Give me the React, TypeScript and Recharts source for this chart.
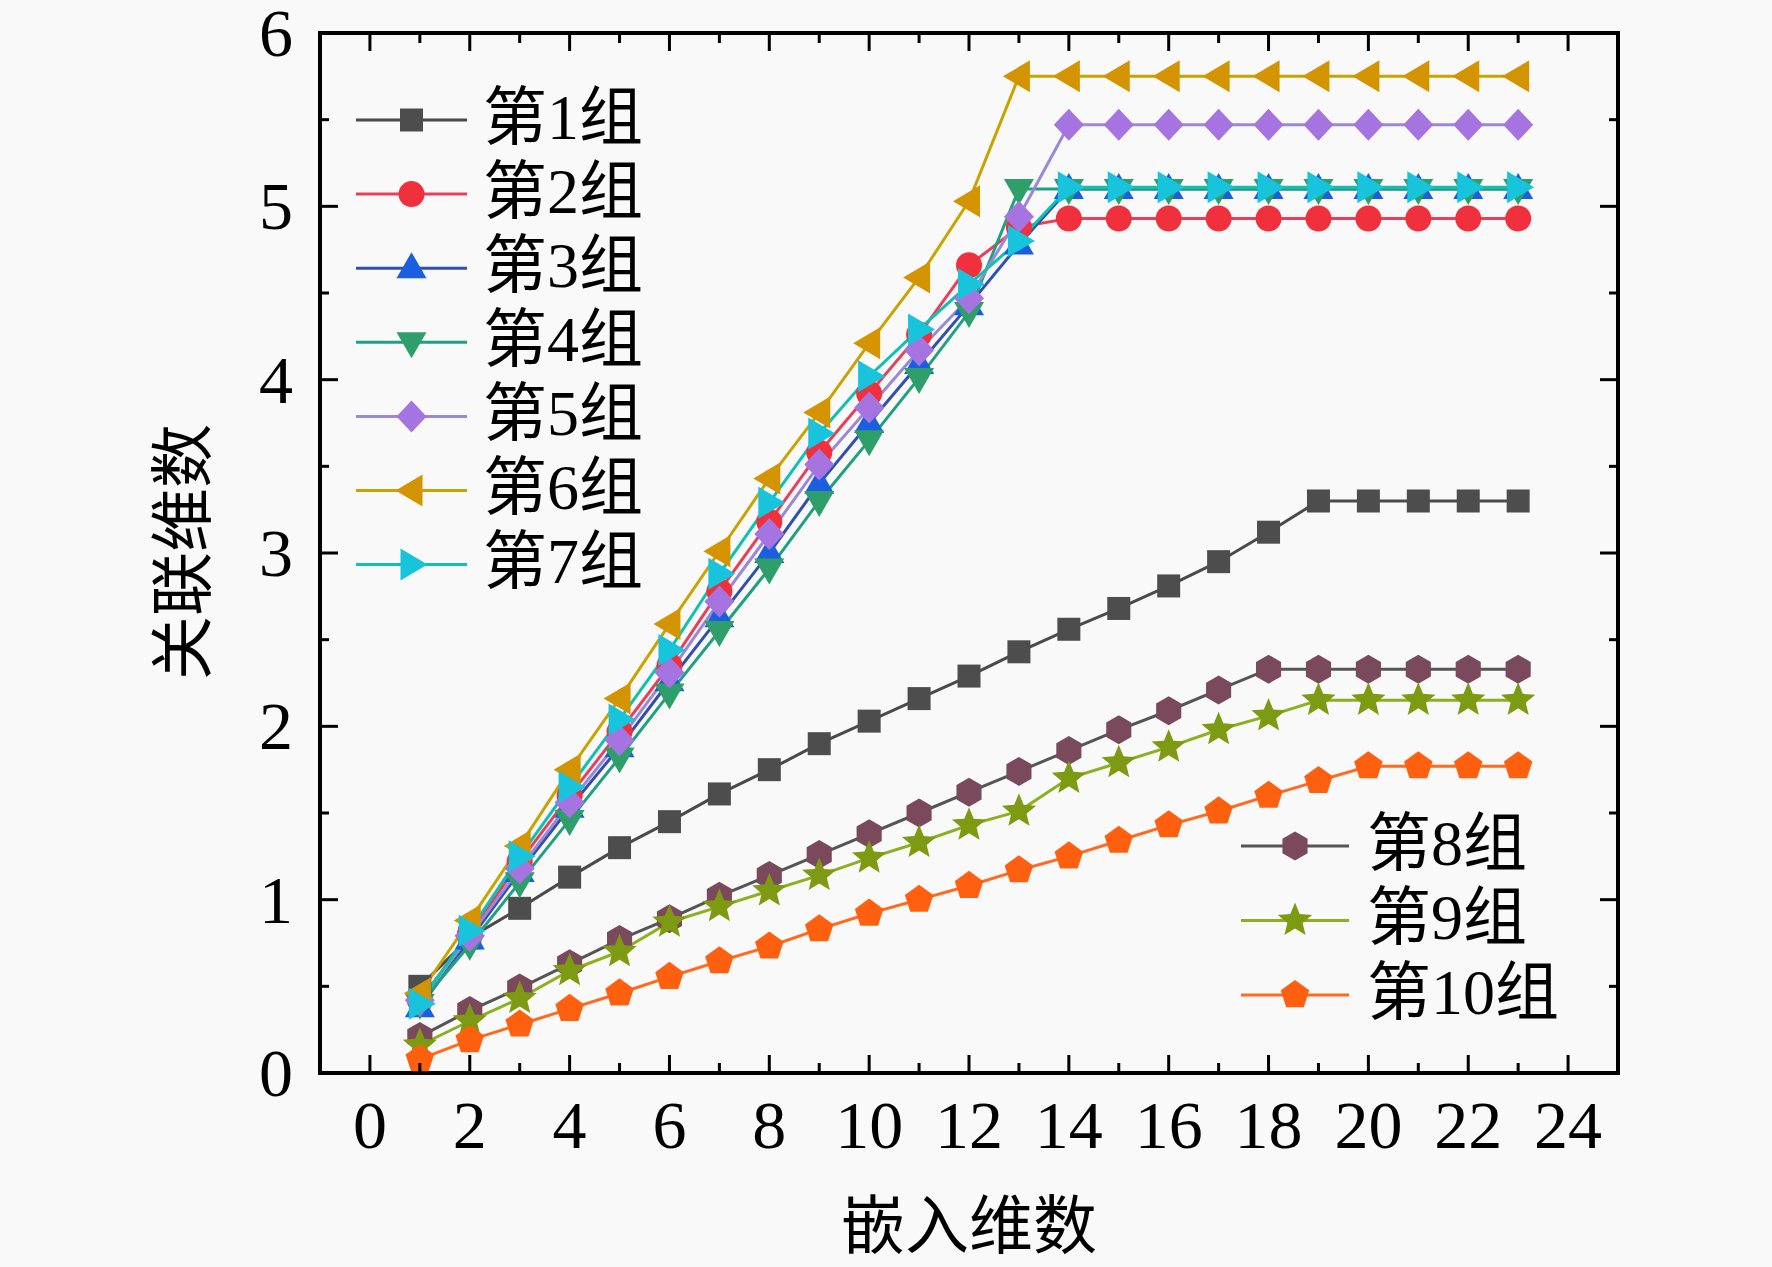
import React from 'react';
import { LineChart, Line, XAxis, YAxis } from 'recharts';

const embedDims = [1, 2, 3, 4, 5, 6, 7, 8, 9, 10, 11, 12, 13, 14, 15, 16, 17, 18, 19, 20, 21, 22, 23];
const group1 = [0.50, 0.78, 0.95, 1.13, 1.30, 1.45, 1.61, 1.75, 1.90, 2.03, 2.16, 2.29, 2.43, 2.56, 2.68, 2.81, 2.95, 3.12, 3.30, 3.30, 3.30, 3.30, 3.30];
const group2 = [0.42, 0.80, 1.22, 1.60, 1.97, 2.35, 2.78, 3.18, 3.58, 3.92, 4.26, 4.66, 4.88, 4.93, 4.93, 4.93, 4.93, 4.93, 4.93, 4.93, 4.93, 4.93, 4.93];
const group3 = [0.38, 0.77, 1.16, 1.53, 1.88, 2.26, 2.63, 3.00, 3.40, 3.75, 4.09, 4.43, 4.78, 5.10, 5.10, 5.10, 5.10, 5.10, 5.10, 5.10, 5.10, 5.10, 5.10];
const group4 = [0.40, 0.74, 1.10, 1.46, 1.82, 2.19, 2.55, 2.91, 3.30, 3.65, 4.01, 4.39, 5.10, 5.10, 5.10, 5.10, 5.10, 5.10, 5.10, 5.10, 5.10, 5.10, 5.10];
const group5 = [0.42, 0.79, 1.18, 1.56, 1.92, 2.31, 2.72, 3.11, 3.51, 3.84, 4.17, 4.47, 4.94, 5.47, 5.47, 5.47, 5.47, 5.47, 5.47, 5.47, 5.47, 5.47, 5.47];
const group6 = [0.46, 0.88, 1.31, 1.75, 2.16, 2.59, 3.01, 3.43, 3.81, 4.21, 4.59, 5.03, 5.75, 5.75, 5.75, 5.75, 5.75, 5.75, 5.75, 5.75, 5.75, 5.75, 5.75];
const group7 = [0.40, 0.82, 1.25, 1.65, 2.04, 2.44, 2.88, 3.29, 3.69, 4.02, 4.29, 4.55, 4.80, 5.11, 5.11, 5.11, 5.11, 5.11, 5.11, 5.11, 5.11, 5.11, 5.11];
const group8 = [0.21, 0.36, 0.49, 0.63, 0.77, 0.89, 1.02, 1.14, 1.26, 1.38, 1.50, 1.62, 1.74, 1.86, 1.98, 2.09, 2.21, 2.33, 2.33, 2.33, 2.33, 2.33, 2.33];
const group9 = [0.16, 0.30, 0.43, 0.59, 0.70, 0.87, 0.96, 1.05, 1.14, 1.24, 1.33, 1.43, 1.51, 1.70, 1.79, 1.88, 1.98, 2.06, 2.15, 2.15, 2.15, 2.15, 2.15];
const group10 = [0.08, 0.19, 0.28, 0.37, 0.46, 0.555, 0.645, 0.73, 0.83, 0.92, 1.00, 1.08, 1.17, 1.25, 1.34, 1.43, 1.51, 1.60, 1.685, 1.77, 1.77, 1.77, 1.77];

const seriesNames = ['第1组', '第2组', '第3组', '第4组', '第5组', '第6组', '第7组', '第8组', '第9组', '第10组'];
const seriesValues = [group1, group2, group3, group4, group5, group6, group7, group8, group9, group10];
const xTicks = [0, 1, 2, 3, 4, 5, 6, 7, 8, 9, 10, 11, 12, 13, 14, 15, 16, 17, 18, 19, 20, 21, 22, 23, 24];
const yTicks = [0, 0.5, 1, 1.5, 2, 2.5, 3, 3.5, 4, 4.5, 5, 5.5, 6];
const xTitle = '嵌入维数';
const yTitle = '关联维数';

const styles = [
  { shape: 'square', line: '#4a4a4a', fill: '#4d4d4d' },
  { shape: 'circle', line: '#e8405a', fill: '#f0303c' },
  { shape: 'up', line: '#3050b0', fill: '#1a5fe0' },
  { shape: 'down', line: '#20a080', fill: '#2e9e6a' },
  { shape: 'diamond', line: '#9a88d8', fill: '#a674e0' },
  { shape: 'left', line: '#c9a400', fill: '#d39400' },
  { shape: 'right', line: '#10c0b0', fill: '#18c4dc' },
  { shape: 'hexagon', line: '#555555', fill: '#7a4a5c' },
  { shape: 'star', line: '#8cb020', fill: '#7e9a12' },
  { shape: 'pentagon', line: '#ff6a20', fill: '#ff6010' },
];

const data = embedDims.map((k, i) => {
  const row: any = { k };
  seriesValues.forEach((arr, s) => {
    row['g' + s] = arr[i];
  });
  return row;
});

const W = 1772;
const H = 1267;
const PL = 320;
const PT = 33;
const PR = 1618;
const PB = 1073;
const AX = 30;
const FONT = "'Liberation Serif', 'Times New Roman', 'Noto Sans CJK SC', serif";

function regular(cx: number, cy: number, r: number, n: number, rot: number) {
  const pts: string[] = [];
  for (let i = 0; i < n; i++) {
    const a = ((rot + (360 / n) * i) * Math.PI) / 180;
    pts.push(`${cx + r * Math.cos(a)},${cy + r * Math.sin(a)}`);
  }
  return pts.join(' ');
}

function starPts(cx: number, cy: number, ro: number, ri: number) {
  const pts: string[] = [];
  for (let i = 0; i < 10; i++) {
    const r = i % 2 === 0 ? ro : ri;
    const a = ((-90 + 36 * i) * Math.PI) / 180;
    pts.push(`${cx + r * Math.cos(a)},${cy + r * Math.sin(a)}`);
  }
  return pts.join(' ');
}

function Marker({ shape, cx, cy, fill }: { shape: string; cx: number; cy: number; fill: string }) {
  switch (shape) {
    case 'square':
      return <rect x={cx - 11.5} y={cy - 11.5} width={23} height={23} fill={fill} />;
    case 'circle':
      return <circle cx={cx} cy={cy} r={13} fill={fill} />;
    case 'up':
      return <polygon points={`${cx},${cy - 16} ${cx + 15},${cy + 10} ${cx - 15},${cy + 10}`} fill={fill} />;
    case 'down':
      return <polygon points={`${cx},${cy + 16} ${cx + 15},${cy - 10} ${cx - 15},${cy - 10}`} fill={fill} />;
    case 'diamond':
      return <polygon points={`${cx},${cy - 16} ${cx + 15},${cy} ${cx},${cy + 16} ${cx - 15},${cy}`} fill={fill} />;
    case 'left':
      return <polygon points={`${cx - 16},${cy} ${cx + 11},${cy - 16} ${cx + 11},${cy + 16}`} fill={fill} />;
    case 'right':
      return <polygon points={`${cx + 16},${cy} ${cx - 11},${cy - 16} ${cx - 11},${cy + 16}`} fill={fill} />;
    case 'hexagon':
      return <polygon points={regular(cx, cy, 14.5, 6, -90)} fill={fill} />;
    case 'star':
      return <polygon points={starPts(cx, cy, 18, 8)} fill={fill} />;
    case 'pentagon':
      return <polygon points={regular(cx, cy, 15, 5, -90)} fill={fill} />;
    default:
      return null;
  }
}

function BottomTick(props: any) {
  const { x, y, payload } = props;
  const v = payload.value;
  const major = v % 2 === 0;
  return (
    <g>
      <line x1={x} x2={x} y1={y} y2={y - (major ? 18 : 10)} stroke="#000" strokeWidth={3} />
      {major && (
        <text x={x} y={y + 52} textAnchor="middle" dominantBaseline="central" fontSize={68} fontFamily={FONT} fill="#000">
          {v}
        </text>
      )}
    </g>
  );
}

function TopTick(props: any) {
  const { x, y, payload } = props;
  const v = payload.value;
  const major = v % 2 === 0;
  return <line x1={x} x2={x} y1={y} y2={y + (major ? 18 : 10)} stroke="#000" strokeWidth={3} />;
}

function LeftTick(props: any) {
  const { x, y, payload } = props;
  const v = payload.value;
  const major = Number.isInteger(v);
  return (
    <g>
      <line x1={x} x2={x + (major ? 18 : 9)} y1={y} y2={y} stroke="#000" strokeWidth={3} />
      {major && (
        <text x={x - 27} y={y} textAnchor="end" dominantBaseline="central" fontSize={68} fontFamily={FONT} fill="#000">
          {v}
        </text>
      )}
    </g>
  );
}

function RightTick(props: any) {
  const { x, y, payload } = props;
  const v = payload.value;
  const major = Number.isInteger(v);
  return <line x1={x} x2={x - (major ? 18 : 9)} y1={y} y2={y} stroke="#000" strokeWidth={3} />;
}

const legendA = [0, 1, 2, 3, 4, 5, 6];
const legendB = [7, 8, 9];

export default function App() {
  const axisLine = { stroke: '#000', strokeWidth: 4, strokeLinecap: 'square' as const };
  return (
    <div style={{ position: 'absolute', left: 0, top: 0, width: W, height: H, background: '#f9f9f9' }}>
      <LineChart
        width={W}
        height={H}
        data={data}
        margin={{ top: PT - AX, right: W - PR - AX, bottom: H - PB - AX, left: PL - AX }}
      >
        <XAxis
          dataKey="k"
          type="number"
          domain={[-1, 25]}
          ticks={xTicks}
          interval={0}
          height={AX}
          tickSize={0}
          tickMargin={0}
          tickLine={false}
          axisLine={axisLine}
          tick={BottomTick}
          allowDataOverflow
        />
        <XAxis
          xAxisId="top"
          orientation="top"
          dataKey="k"
          type="number"
          domain={[-1, 25]}
          ticks={xTicks}
          interval={0}
          height={AX}
          tickSize={0}
          tickMargin={0}
          tickLine={false}
          axisLine={axisLine}
          tick={TopTick}
          allowDataOverflow
        />
        <YAxis
          type="number"
          domain={[0, 6]}
          ticks={yTicks}
          interval={0}
          width={AX}
          tickSize={0}
          tickMargin={0}
          tickLine={false}
          axisLine={axisLine}
          tick={LeftTick}
          allowDataOverflow
        />
        <YAxis
          yAxisId="right"
          orientation="right"
          type="number"
          domain={[0, 6]}
          ticks={yTicks}
          interval={0}
          width={AX}
          tickSize={0}
          tickMargin={0}
          tickLine={false}
          axisLine={axisLine}
          tick={RightTick}
          allowDataOverflow
        />
        {seriesNames.map((name, s) => (
          <Line
            key={name}
            name={name}
            type="linear"
            dataKey={'g' + s}
            stroke={styles[s].line}
            strokeWidth={3}
            isAnimationActive={false}
            activeDot={false}
            dot={(p: any) => (
              <Marker key={`${name}-${p.index}`} shape={styles[s].shape} cx={p.cx} cy={p.cy} fill={styles[s].fill} />
            )}
          />
        ))}
      </LineChart>
      <svg
        width={W}
        height={H}
        style={{ position: 'absolute', left: 0, top: 0, pointerEvents: 'none' }}
      >
        <text
          x={969}
          y={1226}
          textAnchor="middle"
          dominantBaseline="central"
          fontSize={64}
          fontFamily={FONT}
          fill="#000"
        >
          {xTitle}
        </text>
        <text
          x={183}
          y={552}
          textAnchor="middle"
          dominantBaseline="central"
          fontSize={64}
          fontFamily={FONT}
          fill="#000"
          transform="rotate(-90 183 552)"
        >
          {yTitle}
        </text>
        {legendA.map((s, i) => {
          const y = 120 + i * 74.1;
          return (
            <g key={'la' + s}>
              <line x1={356} x2={467} y1={y} y2={y} stroke={styles[s].line} strokeWidth={3} />
              <Marker shape={styles[s].shape} cx={411.5} cy={y} fill={styles[s].fill} />
              <text x={483} y={y - 3} dominantBaseline="central" fontSize={64} fontFamily={FONT} fill="#000">
                {seriesNames[s]}
              </text>
            </g>
          );
        })}
        {legendB.map((s, i) => {
          const y = 846 + i * 74.5;
          return (
            <g key={'lb' + s}>
              <line x1={1241} x2={1349} y1={y} y2={y} stroke={styles[s].line} strokeWidth={3} />
              <Marker shape={styles[s].shape} cx={1295} cy={y} fill={styles[s].fill} />
              <text x={1367} y={y - 3} dominantBaseline="central" fontSize={64} fontFamily={FONT} fill="#000">
                {seriesNames[s]}
              </text>
            </g>
          );
        })}
      </svg>
    </div>
  );
}
